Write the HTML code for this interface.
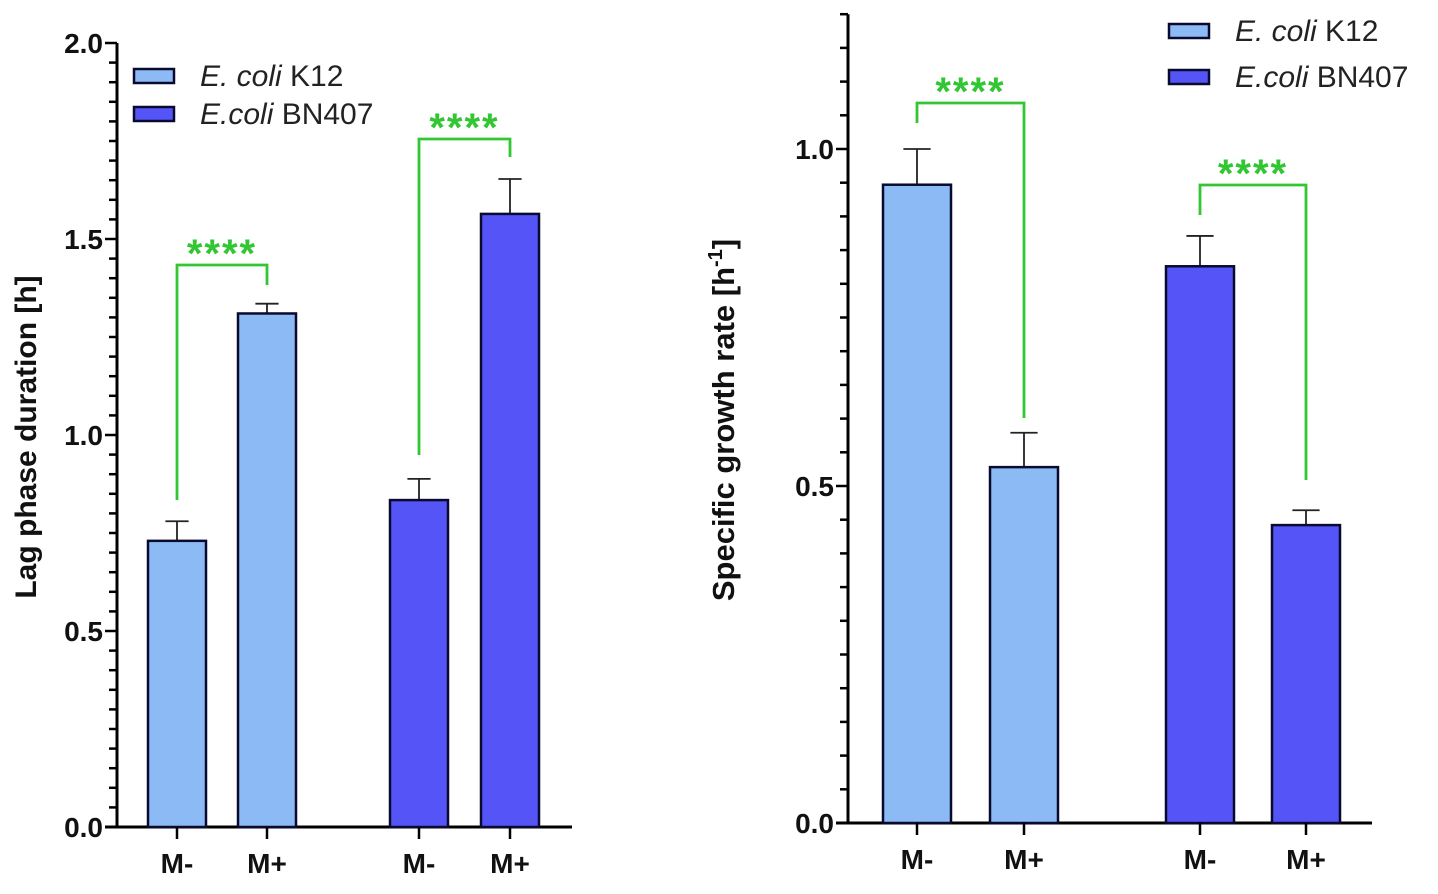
<!DOCTYPE html>
<html><head><meta charset="utf-8"><style>
html,body{margin:0;padding:0;background:#fff;}
svg{display:block;font-family:"Liberation Sans",Arial,sans-serif;}
</style></head><body>
<svg id="chart" width="1438" height="894" viewBox="0 0 1438 894" xmlns="http://www.w3.org/2000/svg"></svg>
<script>
const categories = ["M-","M+","M-","M+"];
const strains = ["K12","K12","BN407","BN407"];
const lagValues = [0.73, 1.31, 0.834, 1.564];
const lagErrors = [0.05, 0.025, 0.054, 0.089];
const rateValues = [0.947, 0.528, 0.826, 0.442];
const rateErrors = [0.053, 0.051, 0.045, 0.022];
const lagTicks = ["0.0","0.5","1.0","1.5","2.0"];
const rateTicks = ["0.0","0.5","1.0"];
const sigLabels = ["****","****"];

const NS="http://www.w3.org/2000/svg";
const svg=document.getElementById('chart');
const LIGHT="#8cbaf5", DARK="#5454f7", GREEN="#33c633";
function el(tag,attrs,parent){const e=document.createElementNS(NS,tag);for(const k in attrs)e.setAttribute(k,attrs[k]);(parent||svg).appendChild(e);return e;}

function drawPanel(cfg){
  const g=el('g',{});
  
  
  const y=v=>cfg.y0-(v-0)*cfg.pxPerUnit;
  const ax=el('line',{x1:cfg.ax,y1:y(cfg.max),x2:cfg.ax,y2:cfg.y0,stroke:'#000','stroke-width':3},g);
  
  
  const xa=el('line',{x1:cfg.ax-12,y1:cfg.y0,x2:cfg.xEnd,y2:cfg.y0,stroke:'#000','stroke-width':3},g);
  
  
  const nMinor=Math.round(cfg.max/0.05);
  for(let i=0;i<=nMinor;i++){
    const v=i*0.05;const major=(i%10===0);
    const t=el('line',{x1:cfg.ax-(major?12:8),y1:y(v),x2:cfg.ax,y2:y(v),stroke:'#000','stroke-width':2.5},g);
    
    
  }
  cfg.ticks.forEach(lbl=>{
    const v=parseFloat(lbl);
    const t=el('text',{x:cfg.ax-14,y:y(v)+10,'text-anchor':'end','font-size':28,'font-weight':'bold',fill:'#111'},g);
    t.textContent=lbl;
    
    
  });
  cfg.values.forEach((v,i)=>{
    const cx=cfg.xs[i];const w=cfg.bw;
    const col=strains[i]==="K12"?LIGHT:DARK;
    const top=y(v+cfg.errors[i]);
    const e1=el('line',{x1:cx,y1:y(v),x2:cx,y2:top,stroke:'#222','stroke-width':1.8},g);
    
    
    const e2=el('line',{x1:cx-w*0.2,y1:top,x2:cx+w*0.2,y2:top,stroke:'#222','stroke-width':1.8},g);
    
    
    const r=el('rect',{x:cx-w/2,y:y(v),width:w,height:cfg.y0-y(v),fill:col,stroke:'#0a0a30','stroke-width':2.5},g);
    
    
    const tk=el('line',{x1:cx,y1:cfg.y0,x2:cx,y2:cfg.y0+12,stroke:'#000','stroke-width':2.5},g);
    
    
    const tl=el('text',{x:cx,y:cfg.y0+46,'text-anchor':'middle','font-size':28,'font-weight':'bold',fill:'#111'},g);
    tl.textContent=categories[i];
    
    
  });
  cfg.brackets.forEach((b,k)=>{
    const p=el('polyline',{points:`${cfg.xs[b.a]},${b.ya} ${cfg.xs[b.a]},${b.top} ${cfg.xs[b.b]},${b.top} ${cfg.xs[b.b]},${b.yb}`,fill:'none',stroke:GREEN,'stroke-width':2.8},g);
    
    
    const s=el('text',{x:(cfg.xs[b.a]+cfg.xs[b.b])/2,y:b.top+2,'text-anchor':'middle','font-size':40,'font-weight':'bold',fill:GREEN,'letter-spacing':'2'},g);
    s.textContent=sigLabels[k];
    
    
  });
  const tt=el('text',{x:0,y:0,transform:`translate(${cfg.titleX},${cfg.titleY}) rotate(-90)`,'text-anchor':'middle','font-size':cfg.titleSize,'font-weight':'bold',fill:'#111'},g);
  tt.innerHTML=cfg.title;
  
  
  [["E. coli"," K12",LIGHT],["E.coli"," BN407",DARK]].forEach((L,i)=>{
    const ly=cfg.legY+i*cfg.legDy;
    const r=el('rect',{x:cfg.legX,y:ly-7,width:40,height:14,fill:L[2],stroke:'#0a0a30','stroke-width':2.5},g);
    
    
    const t=el('text',{x:cfg.legX+66,y:ly+10,'font-size':30,fill:'#222'},g);
    t.innerHTML=`<tspan font-style="italic">${L[0]}</tspan>${L[1]}`;
    
    
  });
}

drawPanel({name:'lag-phase-chart',ax:117,y0:827,pxPerUnit:392,max:2.0,xEnd:572,ticks:lagTicks,
  values:lagValues,errors:lagErrors,xs:[177,267,419,510],bw:58,
  brackets:[{a:0,b:1,top:265,ya:500,yb:285},{a:2,b:3,top:139,ya:455,yb:157}],
  title:'Lag phase duration [h]',titleSize:30,titleX:36,titleY:437,legX:134,legY:76,legDy:38});
drawPanel({name:'growth-rate-chart',ax:848,y0:823,pxPerUnit:674,max:1.2,xEnd:1372,ticks:rateTicks,
  values:rateValues,errors:rateErrors,xs:[917,1024,1200,1306],bw:68,
  brackets:[{a:0,b:1,top:103,ya:123,yb:418},{a:2,b:3,top:185,ya:215,yb:480}],
  title:'Specific growth rate [h<tspan dy="-12" font-size="20">-1</tspan><tspan dy="12">]</tspan>',titleSize:31,titleX:734,titleY:420,legX:1169,legY:31,legDy:46});
</script>
</body></html>
